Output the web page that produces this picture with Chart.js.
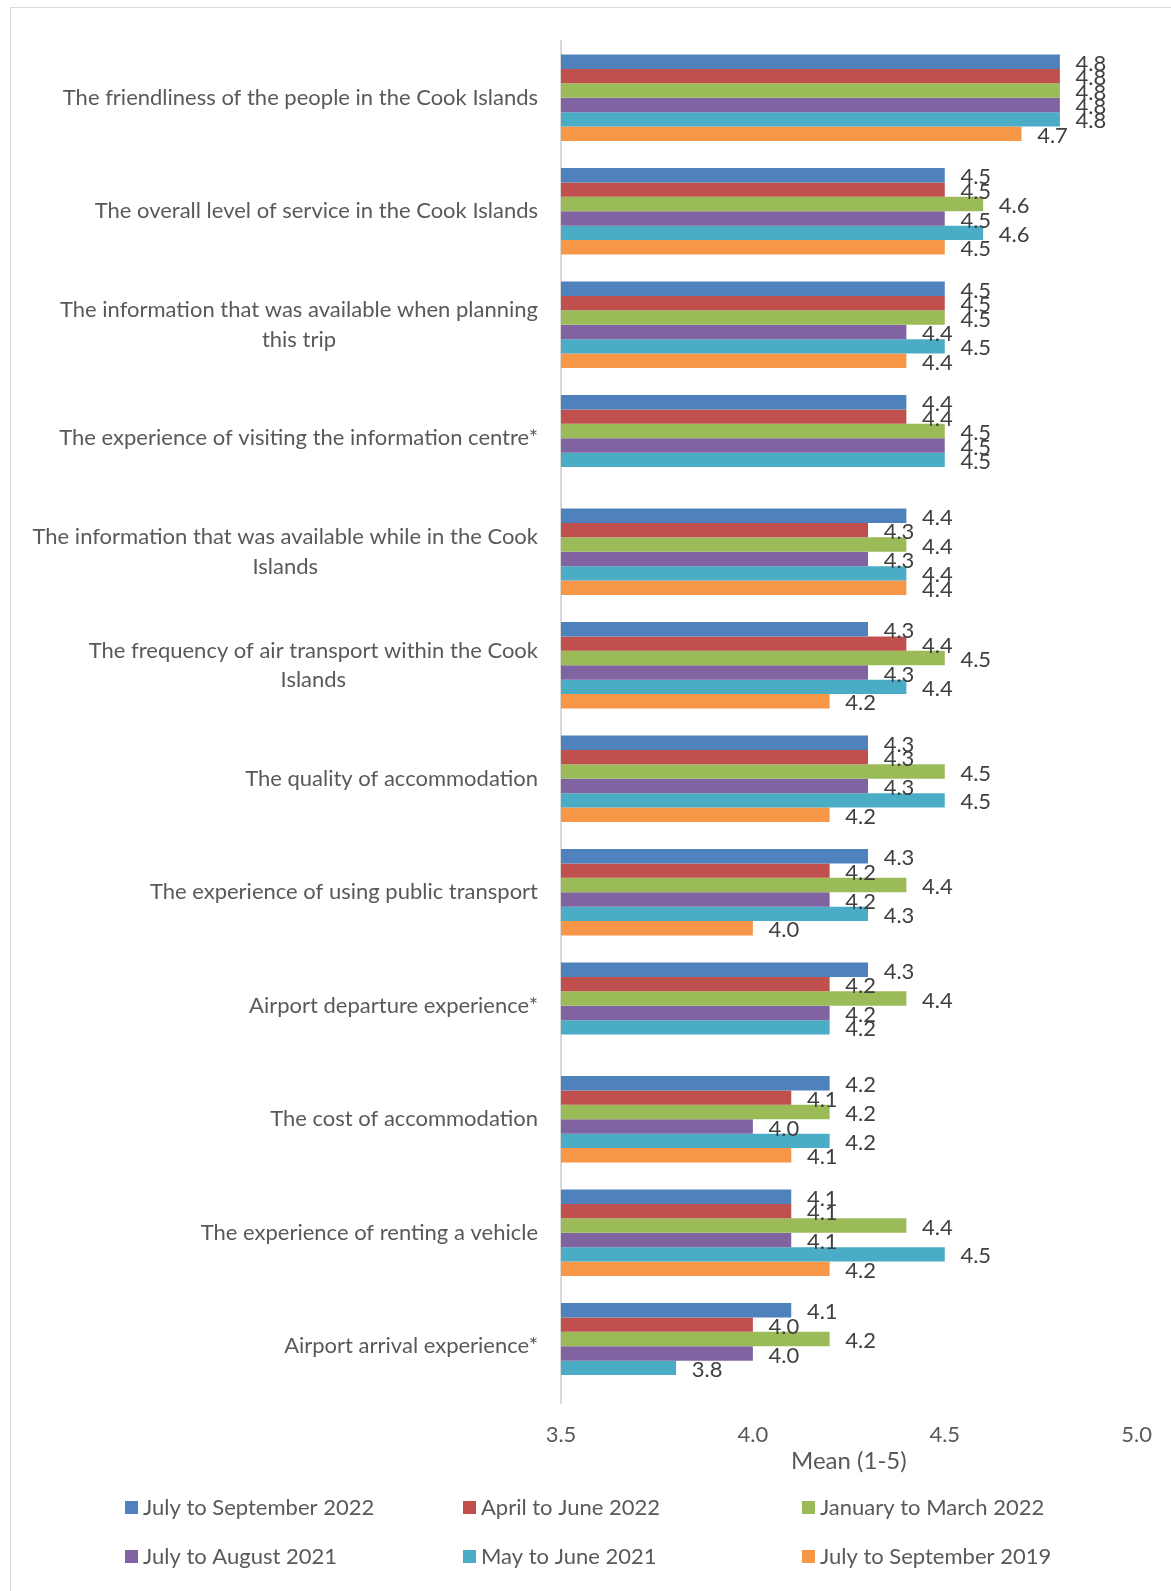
<!DOCTYPE html>
<html>
<head>
<meta charset="utf-8">
<script src="https://cdn.jsdelivr.net/npm/chart.js@4.4.1/dist/chart.umd.min.js"></script>
<style>
    html, body { margin: 0; padding: 0; background: #fff; overflow: hidden; }
    #frame { position: absolute; left: 10px; top: 7px; width: 1180px; height: 1600px; border: 1px solid #d9d9d9; }
    #wrap { position: absolute; left: 0; top: 0; width: 1171px; height: 1591px; }
</style>
</head>
<body>
<div id="frame"></div>
<div id="wrap"><canvas id="satchart"></canvas></div>
<script>
const categories = [
    "The friendliness of the people in the Cook Islands",
    "The overall level of service in the Cook Islands",
    ["The information that was available when planning", "this trip"],
    "The experience of visiting the information centre*",
    ["The information that was available while in the Cook", "Islands"],
    ["The frequency of air transport within the Cook", "Islands"],
    "The quality of accommodation",
    "The experience of using public transport",
    "Airport departure experience*",
    "The cost of accommodation",
    "The experience of renting a vehicle",
    "Airport arrival experience*"
];

const seriesNames = ["July to September 2022", "April to June 2022", "January to March 2022",
    "July to August 2021", "May to June 2021", "July to September 2019"];
const seriesColors = ["#4f81bd", "#c0504d", "#9bbb59", "#8064a2", "#4bacc6", "#f79646"];

const julSep2022 = [4.8, 4.5, 4.5, 4.4, 4.4, 4.3, 4.3, 4.3, 4.3, 4.2, 4.1, 4.1];
const aprJun2022 = [4.8, 4.5, 4.5, 4.4, 4.3, 4.4, 4.3, 4.2, 4.2, 4.1, 4.1, 4.0];
const janMar2022 = [4.8, 4.6, 4.5, 4.5, 4.4, 4.5, 4.5, 4.4, 4.4, 4.2, 4.4, 4.2];
const julAug2021 = [4.8, 4.5, 4.4, 4.5, 4.3, 4.3, 4.3, 4.2, 4.2, 4.0, 4.1, 4.0];
const mayJun2021 = [4.8, 4.6, 4.5, 4.5, 4.4, 4.4, 4.5, 4.3, 4.2, 4.2, 4.5, 3.8];
const julSep2019 = [4.7, 4.5, 4.4, null, 4.4, 4.2, 4.2, 4.0, null, 4.1, 4.2, null];

const xTicks = [3.5, 4.0, 4.5, 5.0];
const allSeries = [julSep2022, aprJun2022, janMar2022, julAug2021, mayJun2021, julSep2019];

const FONT = "Lato";

// value labels to the right of each bar
const valueLabels = {
    id: "valueLabels",
    afterDatasetsDraw(chart) {
        const ctx = chart.ctx;
        ctx.save();
        ctx.font = "22px " + FONT;
        ctx.fillStyle = "#404040";
        ctx.textAlign = "center";
        ctx.textBaseline = "middle";
        chart.data.datasets.forEach((ds, i) => {
            chart.getDatasetMeta(i).data.forEach((bar, j) => {
                const v = ds.data[j];
                if (v === null) return;
                ctx.fillText(v.toFixed(1), bar.x + 31, bar.y + 2);
            });
        });
        ctx.restore();
    }
};

// category labels: block right-aligned, lines centred inside the block
const categoryLabels = {
    id: "categoryLabels",
    afterDraw(chart) {
        const ctx = chart.ctx;
        const y = chart.scales.y;
        const right = chart.chartArea.left - 23;
        ctx.save();
        ctx.font = "22px " + FONT;
        ctx.fillStyle = "#595959";
        ctx.textAlign = "center";
        ctx.textBaseline = "middle";
        categories.forEach((lab, i) => {
            const lines = Array.isArray(lab) ? lab : [lab];
            const w = Math.max(...lines.map(l => ctx.measureText(l).width));
            const cx = right - w / 2;
            const cy = y.getPixelForValue(i);
            lines.forEach((l, k) => {
                ctx.fillText(l, cx, cy + (k - (lines.length - 1) / 2) * 29.4);
            });
        });
        ctx.restore();
    }
};

// legend laid out in a 3 column grid like the original
const gridLegend = {
    id: "gridLegend",
    afterDraw(chart) {
        const ctx = chart.ctx;
        const cols = [125, 463, 802];
        const rows = [1508, 1557];
        ctx.save();
        ctx.font = "22px " + FONT;
        ctx.textAlign = "left";
        ctx.textBaseline = "middle";
        chart.data.datasets.forEach((ds, i) => {
            const x = cols[i % 3];
            const y = rows[Math.floor(i / 3)];
            ctx.fillStyle = ds.backgroundColor;
            ctx.fillRect(x, y - 7, 13, 13);
            ctx.fillStyle = "#595959";
            ctx.fillText(ds.label, x + 18, y);
        });
        ctx.restore();
    }
};

const ctxEl = document.getElementById("satchart");

new Chart(ctxEl, {
    type: "bar",
    data: {
        labels: categories,
        datasets: seriesNames.map((name, i) => ({
            label: name,
            data: allSeries[i],
            backgroundColor: seriesColors[i],
            borderWidth: 0,
            categoryPercentage: 0.76,
            barPercentage: 1.0
        }))
    },
    options: {
        indexAxis: "y",
        responsive: true,
        maintainAspectRatio: false,
        animation: false,
        layout: {
            padding: { left: 561, right: 30, top: 41, bottom: 111 }
        },
        plugins: {
            legend: { display: false },
            tooltip: { enabled: false }
        },
        scales: {
            y: {
                ticks: { display: false },
                grid: { display: false, drawTicks: false },
                border: { display: true, color: "#d9d9d9", width: 2 },
                afterFit: (s) => { s.width = 0; }
            },
            x: {
                min: 3.5,
                max: 5.0,
                afterBuildTicks: (s) => { s.ticks = xTicks.map(v => ({ value: v })); },
                ticks: {
                    padding: 19,
                    color: "#595959",
                    font: { family: FONT, size: 22 },
                    callback: (v) => Number(v).toFixed(1)
                },
                grid: { display: false, drawTicks: false },
                border: { display: false },
                title: {
                    display: true,
                    text: "Mean (1-5)",
                    color: "#595959",
                    font: { family: FONT, size: 24 },
                    padding: { top: 0, bottom: 4 }
                },
                afterFit: (s) => { s.height = 77; }
            }
        }
    },
    plugins: [valueLabels, categoryLabels, gridLegend]
});
</script>
</body>
</html>
